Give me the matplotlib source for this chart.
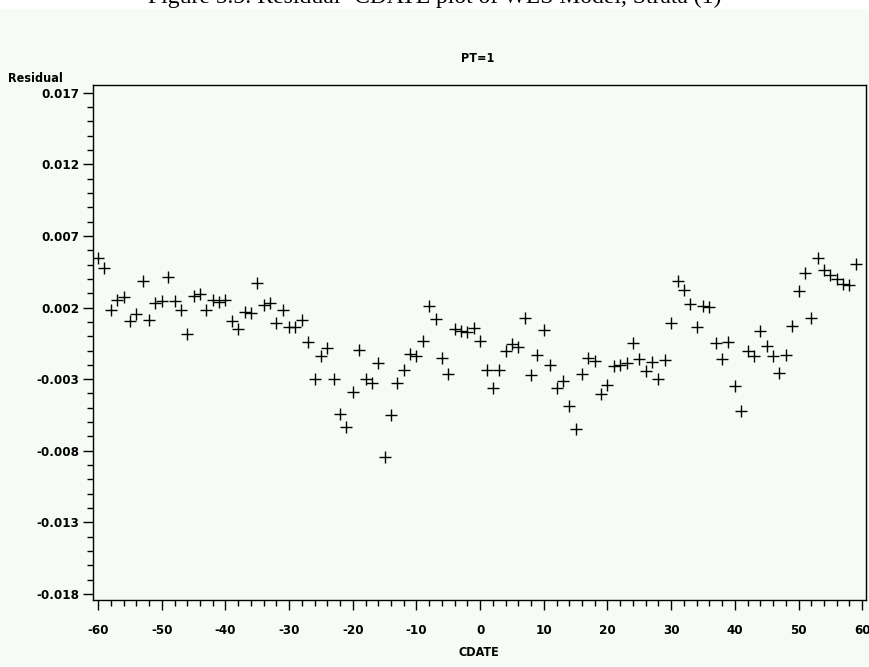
import matplotlib
matplotlib.use("Agg")
from matplotlib import pyplot as plt
from matplotlib.ticker import MultipleLocator

# CDATE values (-60 .. 59) and residuals
cdate = list(range(-60, 60))
residual = [
    0.00547, 0.00478, 0.00186, 0.00256, 0.00276, 0.00103, 0.00158, 0.00388,
    0.00110, 0.00235, 0.00249, 0.00415, 0.00249, 0.00180, 0.00013, 0.00283,
    0.00297, 0.00186, 0.00256, 0.00242, 0.00256, 0.00103, 0.00047, 0.00172,
    0.00165, 0.00374, 0.00221, 0.00235, 0.00089, 0.00180, 0.00061, 0.00061,
    0.00110, -0.00043, -0.00300, -0.00140, -0.00085, -0.00300, -0.00543, -0.00633,
    -0.00390, -0.00099, -0.00300, -0.00328, -0.00189, -0.00842, -0.00550, -0.00328,
    -0.00238, -0.00126, -0.00140, -0.00036, 0.00214, 0.00117, -0.00154, -0.00265,
    0.00047, 0.00033, 0.00026, 0.00054, -0.00036, -0.00238, -0.00363, -0.00238,
    -0.00106, -0.00057, -0.00078, 0.00124, -0.00272, -0.00133, 0.00040, -0.00203,
    -0.00363, -0.00314, -0.00488, -0.00647, -0.00265, -0.00154, -0.00175, -0.00404,
    -0.00342, -0.00210, -0.00203, -0.00189, -0.00050, -0.00161, -0.00244, -0.00182,
    -0.00300, -0.00168, 0.00089, 0.00388, 0.00325, 0.00228, 0.00061, 0.00214,
    0.00207, -0.00050, -0.00161, -0.00043, -0.00349, -0.00522, -0.00106, -0.00140,
    0.00033, -0.00071, -0.00140, -0.00258, -0.00133, 0.00068, 0.00318, 0.00443,
    0.00124, 0.00547, 0.00464, 0.00429, 0.00401, 0.00367, 0.00360, 0.00506,
]
x_ticks = list(range(-60, 61, 10))
y_ticks = [-0.018, -0.013, -0.008, -0.003, 0.002, 0.007, 0.012, 0.017]

bg = "#f6fbf6"
lab_font = dict(family="DejaVu Sans", fontweight="bold", fontstretch="condensed")

fig = plt.figure(figsize=(8.7, 6.67), dpi=100, facecolor=bg)
ax = fig.add_axes([93 / 870, 1 - 600 / 667, (866 - 93) / 870, (600 - 85) / 667])
ax.set_facecolor(bg)

ax.plot(cdate, residual, linestyle="none", marker="+", markersize=8,
        markeredgewidth=1.0, color="black")

ax.set_xlim(-60.8, 60.6)
ax.set_ylim(-0.01842, 0.01754)
ax.set_xticks(x_ticks)
ax.set_yticks(y_ticks)
ax.set_xticklabels([str(v) for v in x_ticks], fontsize=9.5, **lab_font)
ax.set_yticklabels([f"{v:.3f}" for v in y_ticks], fontsize=9.5, **lab_font)
ax.xaxis.set_minor_locator(MultipleLocator(2))
ax.yaxis.set_minor_locator(MultipleLocator(0.001))

ax.tick_params(axis="both", which="major", direction="out", length=7, width=1,
               color="black", pad=10)
ax.tick_params(axis="both", which="minor", direction="out", length=4, width=1,
               color="black")
ax.tick_params(axis="y", pad=3)

for sp in ax.spines.values():
    sp.set_linewidth(1.0)
    sp.set_color("black")

# texts around the plot
fig.patches.append(plt.Rectangle((0, 1 - 8 / 667), 1, 8 / 667,
                                 transform=fig.transFigure, color="white",
                                 zorder=0))
fig.text(0.5, 1 - 3 / 667, "Figure 5.5: Residual- CDATE plot of WLS Model, Strata (1)",
         ha="center", va="baseline", fontsize=17, family="Liberation Serif")
fig.text(478 / 870, 1 - 58 / 667, "PT=1", ha="center", va="center",
         fontsize=9, **lab_font)
fig.text(8 / 870, 1 - 79 / 667, "Residual", ha="left", va="center",
         fontsize=9, **lab_font)
fig.text(479 / 870, 1 - 653 / 667, "CDATE", ha="center", va="center",
         fontsize=9, **lab_font)

plt.savefig("out.png", dpi=100, facecolor=bg)
